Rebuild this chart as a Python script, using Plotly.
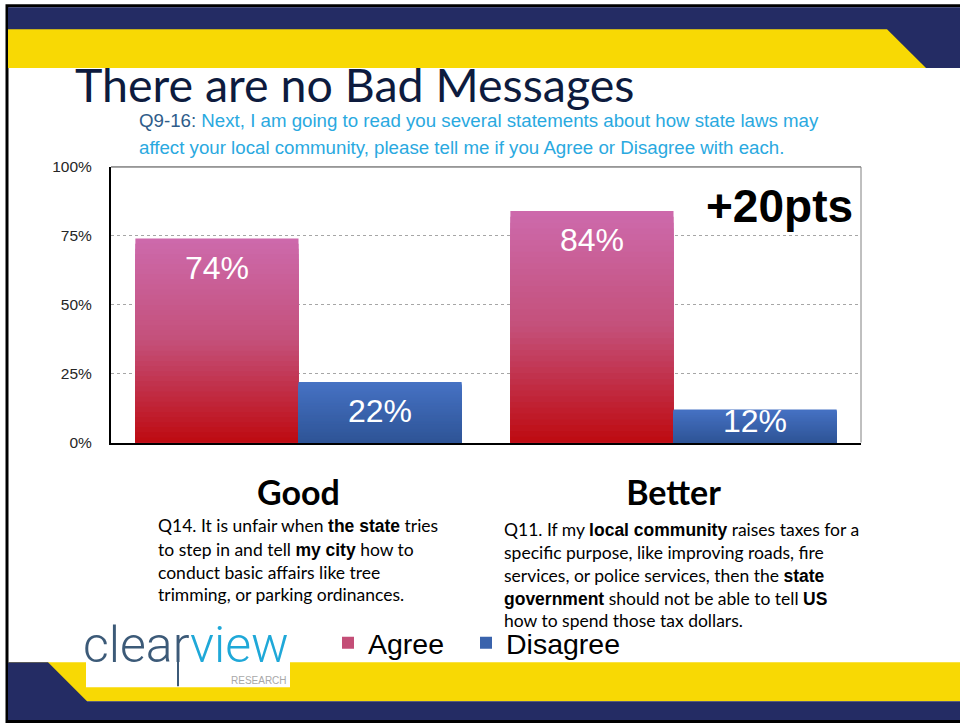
import plotly.graph_objects as go

# ---------------- data ----------------
categories = ["Good", "Better"]
agree = [74, 84]
disagree = [22, 12]
series_names = ["Agree", "Disagree"]
y_ticks = [0, 25, 50, 75, 100]
y_tick_labels = ["0%", "25%", "50%", "75%", "100%"]

title_text = "There are no Bad Messages"
subtitle_prefix = "Q9-16:"
subtitle_line1 = " Next, I am going to read you several statements about how state laws may"
subtitle_line2 = "affect your local community, please tell me if you Agree or Disagree with each."
callout_text = "+20pts"
good_lines = [
    "Q14. It is unfair when <b>the state</b> tries",
    "to step in and tell <b>my city</b> how to",
    "conduct basic affairs like tree",
    "trimming, or parking ordinances.",
]
better_lines = [
    "Q11. If my <b>local community</b> raises taxes for a",
    "specific purpose, like improving roads, fire",
    "services, or police services, then the <b>state</b>",
    "<b>government</b> should not be able to tell <b>US</b>",
    "how to spend those tax dollars.",
]

# ---------------- styling ----------------
W, H = 960, 723
NAVY = "#242C64"
YELLOW = "#F8D904"
AGREE_STOPS = [(0.0, (190, 10, 16)), (0.5, (196, 80, 122)), (1.0, (205, 106, 172))]
DIS_STOPS = [(0.0, (46, 84, 150)), (1.0, (70, 114, 196))]
N_SEG = 40
BOLD_FONT = "Liberation Sans"
# observed vertical mapping of the paper area: shown = OFF + SC * paper_px
OFF, SC = 7.8, 0.978


def X(px):
    return px / W


def Y(py):
    return 1 - ((py - OFF) / SC) / H


def interp(stops, t):
    for (t0, c0), (t1, c1) in zip(stops[:-1], stops[1:]):
        if t0 <= t <= t1:
            f = (t - t0) / (t1 - t0) if t1 > t0 else 0
            c = [round(a + (b - a) * f) for a, b in zip(c0, c1)]
            return "rgb(%d,%d,%d)" % tuple(c)
    return "rgb(%d,%d,%d)" % stops[-1][1]


def boldify(s):
    return s.replace("<b>", "<b><span style='font-family:%s'>" % BOLD_FONT).replace("</b>", "</span></b>")


fig = go.Figure()

# gradient bars: painted tallest first, each shorter layer on top
for name, vals, stops, lg in [("Agree", agree, AGREE_STOPS, "legend"), ("Disagree", disagree, DIS_STOPS, "legend2")]:
    for j in range(N_SEG):
        frac = (N_SEG - j) / N_SEG
        col = interp(stops, (N_SEG - j - 0.5) / N_SEG)
        fig.add_trace(go.Bar(
            x=categories,
            y=[v * frac for v in vals],
            name=name,
            offsetgroup=name,
            legendgroup=name,
            legend=lg,
            showlegend=(j == N_SEG // 2),
            marker=dict(color=col, line=dict(width=0)),
            hoverinfo="skip",
        ))

annotations = []

# value labels inside bars
px_per_unit = (442 - 166) / 100.0
for si, vals in enumerate([agree, disagree]):
    for ci, v in enumerate(vals):
        if v * px_per_unit > 29 + 22:
            yy, ys = v, -29
        else:
            yy, ys = 0, 22
        annotations.append(dict(
            x=categories[ci], y=yy, xref="x", yref="y", yshift=ys,
            xshift=(-81.5 if si == 0 else 81.5),
            text="%d%%" % v, showarrow=False,
            font=dict(family="Liberation Sans", size=32, color="white"),
            xanchor="center", yanchor="middle",
        ))

shapes = []
# frame
shapes.append(dict(type="rect", xref="paper", yref="paper", x0=X(7), x1=1.05, y0=Y(721.5), y1=Y(4.5),
                   line=dict(color="black", width=3), fillcolor="white", layer="below"))
# top navy band
shapes.append(dict(type="rect", xref="paper", yref="paper", x0=X(8), x1=1.02, y0=Y(67), y1=Y(6),
                   line=dict(width=0), fillcolor=NAVY, layer="below"))
# top yellow band with diagonal
shapes.append(dict(type="path", xref="paper", yref="paper",
                   path="M %f,%f L %f,%f L %f,%f L %f,%f Z" % (X(8), Y(28), X(887), Y(28), X(926), Y(67), X(8), Y(67)),
                   line=dict(width=0), fillcolor=YELLOW, layer="below"))
# bottom yellow band
shapes.append(dict(type="rect", xref="paper", yref="paper", x0=X(8), x1=1.02, y0=Y(701), y1=Y(662),
                   line=dict(width=0), fillcolor=YELLOW, layer="below"))
# bottom navy corner + band
shapes.append(dict(type="path", xref="paper", yref="paper",
                   path="M %f,%f L %f,%f L %f,%f L %f,%f L %f,%f L %f,%f Z" % (
                       X(8), Y(662), X(48), Y(662), X(87), Y(701), X(965), Y(701), X(965), Y(720), X(8), Y(720)),
                   line=dict(width=0), fillcolor=NAVY, layer="below"))
# logo white box
shapes.append(dict(type="rect", xref="paper", yref="paper", x0=X(86), x1=X(290), y0=Y(687), y1=Y(628),
                   line=dict(width=0), fillcolor="white", layer="below"))
# logo stem
shapes.append(dict(type="line", xref="paper", yref="paper", x0=X(178), x1=X(178), y0=Y(686), y1=Y(652),
                   line=dict(width=2, color="#3C5A78"), layer="above"))
# plot frame top/right thin
shapes.append(dict(type="line", xref="x domain", yref="y domain", x0=0, x1=1, y0=1, y1=1,
                   line=dict(width=1, color="#404040")))
shapes.append(dict(type="line", xref="x domain", yref="y domain", x0=1, x1=1, y0=0, y1=1,
                   line=dict(width=1, color="#808080")))

annotations += [
    dict(x=X(73), y=Y(83), xref="paper", yref="paper", xanchor="left", yanchor="middle",
         text=title_text, showarrow=False,
         font=dict(family="Lato", size=46.5, color="#0D1B3E")),
    dict(x=X(137), y=Y(119.5), xref="paper", yref="paper", xanchor="left", yanchor="middle",
         text="<span style='color:#2E5C8A'>%s</span>%s" % (subtitle_prefix, subtitle_line1), showarrow=False,
         font=dict(family="Liberation Sans", size=18.7, color="#2AA9DF")),
    dict(x=X(137), y=Y(146.5), xref="paper", yref="paper", xanchor="left", yanchor="middle",
         text=subtitle_line2, showarrow=False,
         font=dict(family="Liberation Sans", size=18.7, color="#2AA9DF")),
    dict(x=X(855), y=Y(205), xref="paper", yref="paper", xanchor="right", yanchor="middle",
         text="<b>%s</b>" % callout_text, showarrow=False,
         font=dict(family="Liberation Sans", size=46, color="black")),
    # logo
    dict(x=X(81), y=Y(645), xref="paper", yref="paper", xanchor="left", yanchor="middle",
         text="<span style='color:#3C5A78'>clear</span><span style='color:#1FA8D8'>view</span>", showarrow=False,
         font=dict(family="Roboto", size=50, weight=300)),
    dict(x=X(289), y=Y(680), xref="paper", yref="paper", xanchor="right", yanchor="middle",
         text="RESEARCH", showarrow=False,
         font=dict(family="Liberation Sans", size=10, color="#A8A8A8")),
]

good_y = [525, 549, 572, 594]
for t, yy in zip(good_lines, good_y):
    annotations.append(dict(x=X(156), y=Y(yy), xref="paper", yref="paper", xanchor="left", yanchor="middle",
                            text=boldify(t), showarrow=False,
                            font=dict(family="Lato", size=17.5, color="black")))
better_y = [529, 552, 575, 598, 620]
for t, yy in zip(better_lines, better_y):
    annotations.append(dict(x=X(502), y=Y(yy), xref="paper", yref="paper", xanchor="left", yanchor="middle",
                            text=boldify(t), showarrow=False,
                            font=dict(family="Lato", size=17.5, color="black")))

legend_font = dict(family="Liberation Sans Narrow, Liberation Sans", size=28.5, color="black")
fig.update_layout(
    width=W, height=H,
    margin=dict(l=0, r=0, t=0, b=0),
    paper_bgcolor="white", plot_bgcolor="white",
    barmode="group", bargap=0.13, bargroupgap=0,
    showlegend=True,
    legend=dict(orientation="h", x=X(328), y=Y(643), xanchor="left", yanchor="middle",
                font=legend_font, bgcolor="rgba(0,0,0,0)", itemclick=False, itemdoubleclick=False),
    legend2=dict(orientation="h", x=X(466), y=Y(643), xanchor="left", yanchor="middle",
                 font=legend_font, bgcolor="rgba(0,0,0,0)", itemclick=False, itemdoubleclick=False),
    xaxis=dict(domain=[X(111), X(861)], showgrid=False, showline=True, linecolor="black", linewidth=2,
               ticks="", tickfont=dict(family="Lato", size=34, color="black", weight="bold"),
               ticklabelstandoff=20, fixedrange=True),
    yaxis=dict(domain=[Y(442), Y(166)], range=[0, 100], tickvals=y_ticks, ticktext=y_tick_labels,
               showgrid=True, gridcolor="#A6A6A6", griddash="dot", gridwidth=1,
               showline=True, linecolor="black", linewidth=2, ticks="", zeroline=False,
               tickfont=dict(family="Liberation Sans", size=15.5, color="#262626"),
               ticklabelstandoff=14, fixedrange=True),
    shapes=shapes,
    annotations=annotations,
    hovermode=False,
)

fig.write_html(
    "out.html", config={"displayModeBar": False, "staticPlot": True},
    post_script=(
        "document.documentElement.style.margin='0';document.body.style.margin='0';"
        "document.body.style.padding='0';"
        "var d=document.getElementsByClassName('plotly-graph-div')[0];"
        "d.style.position='fixed';d.style.top='0px';d.style.left='0px';"
        "document.body.style.overflow='hidden';document.documentElement.style.overflow='hidden';"
    ),
)
